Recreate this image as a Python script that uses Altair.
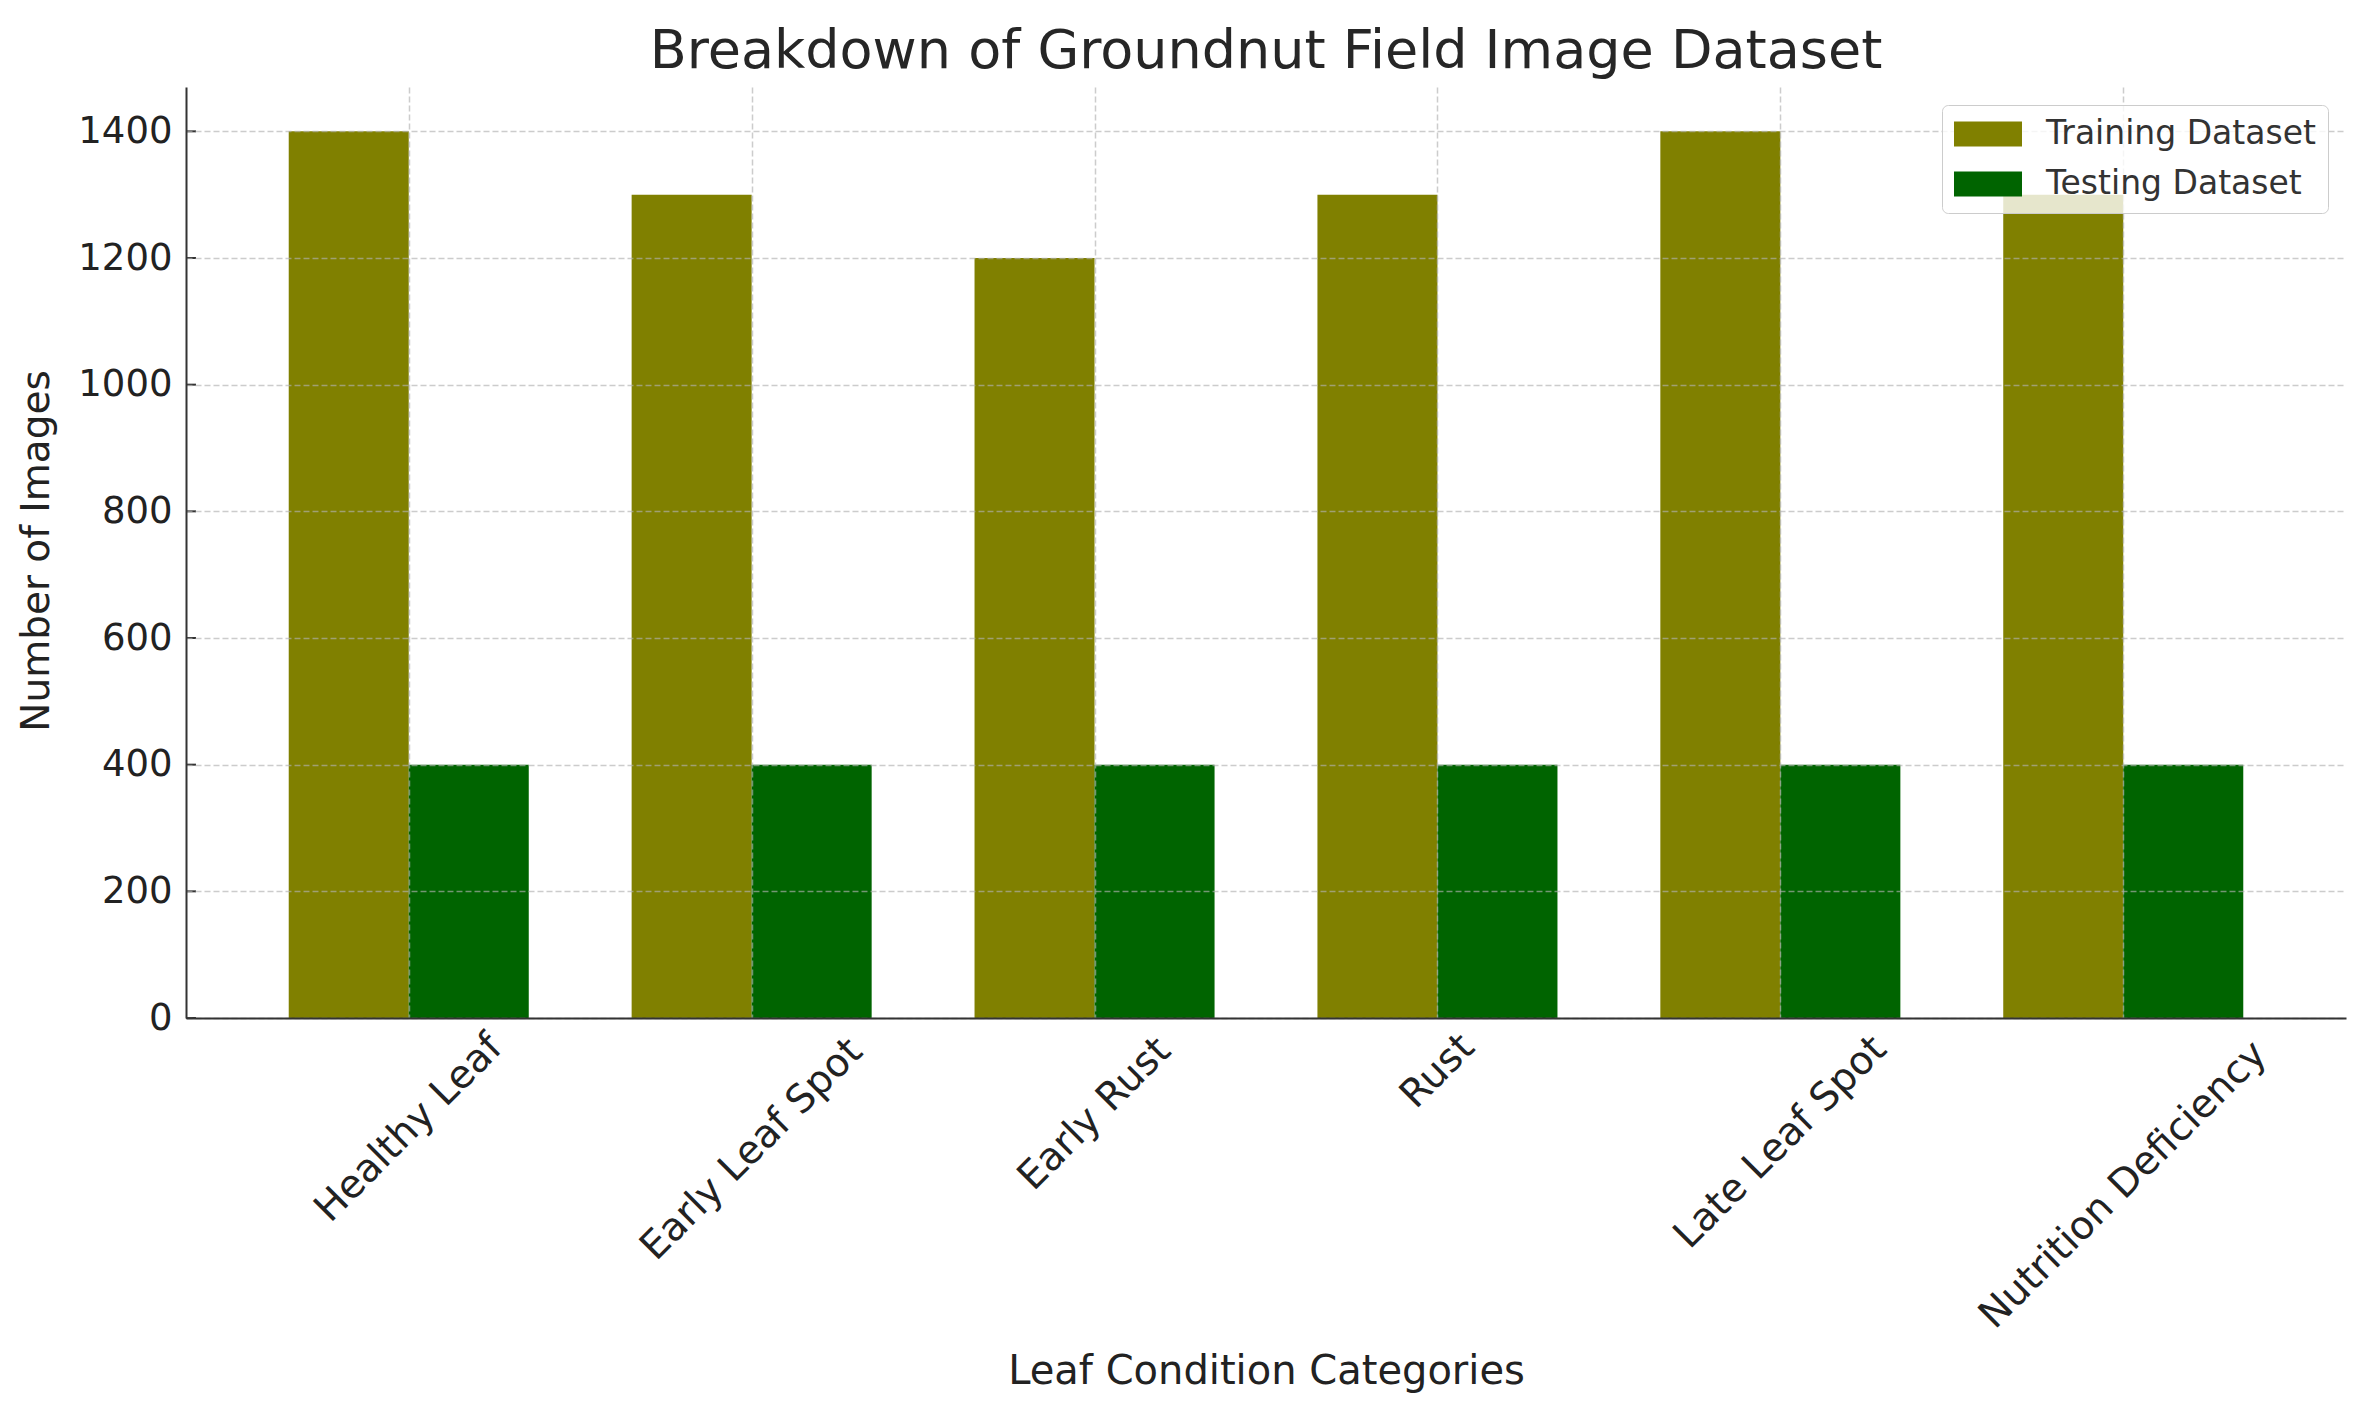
import altair as alt
import pandas as pd

# ---- data ----
categories = ["Healthy Leaf", "Early Leaf Spot", "Early Rust", "Rust",
              "Late Leaf Spot", "Nutrition Deficiency"]
training = [1400, 1300, 1200, 1300, 1400, 1300]
testing = [400, 400, 400, 400, 400, 400]
series_names = ["Training Dataset", "Testing Dataset"]
series_colors = ["#808000", "#006400"]
y_ticks = [0, 200, 400, 600, 800, 1000, 1200, 1400]

# ---- layout ----
W, H = 2160, 931
BAR = 0.35
X_DOMAIN = [-0.635, 5.635]
Y_DOMAIN = [0, 1470]
FONT = "DejaVu Sans"
TXT = "#222222"
LABEL_SIZE = 39

rows = []
for i, c in enumerate(categories):
    rows.append({"cat": c, "idx": i, "series": series_names[0], "value": training[i], "side": -1})
    rows.append({"cat": c, "idx": i, "series": series_names[1], "value": testing[i], "side": 0})
bars_df = pd.DataFrame(rows)
labels_df = pd.DataFrame({"cat": categories, "idx": list(range(len(categories)))})
ticks_df = pd.DataFrame({"value": y_ticks})

x_scale = alt.Scale(domain=X_DOMAIN, nice=False, zero=False)
y_scale = alt.Scale(domain=Y_DOMAIN, nice=False)

grid_style = dict(grid=True, gridColor="#b0b0b0", gridOpacity=0.65,
                  gridDash=[6, 3], gridWidth=1.5)

bars = alt.Chart(bars_df).transform_calculate(
    x0=f"datum.idx + datum.side * {BAR}",
).transform_calculate(
    x1=f"datum.x0 + {BAR}",
).mark_bar(orient="vertical").encode(
    x=alt.X("x0:Q", scale=x_scale,
            axis=alt.Axis(values=list(range(len(categories))), labels=False, ticks=False,
                          domainColor="#333333", domainWidth=2, zindex=1,
                          title="Leaf Condition Categories", titleFont=FONT,
                          titleFontSize=40, titleFontWeight="normal", titleColor=TXT,
                          titleX=W / 2, titleY=365, titleAlign="center",
                          titleBaseline="alphabetic", titleAngle=0,
                          **grid_style)),
    x2="x1:Q",
    y=alt.Y("value:Q", scale=y_scale,
            axis=alt.Axis(values=y_ticks, format="d", ticks=False, labelPadding=14,
                          labelFont=FONT, labelFontSize=37, labelColor=TXT,
                          domainColor="#333333", domainWidth=2, zindex=1,
                          title="Number of Images", titleFont=FONT, titleFontSize=39,
                          titleFontWeight="normal", titleColor=TXT,
                          titleX=-150, titleY=H / 2 - 2, titleAngle=270,
                          titleAlign="center", titleBaseline="middle",
                          **grid_style)),
    y2=alt.datum(0),
    color=alt.Color("series:N",
                    scale=alt.Scale(domain=series_names, range=series_colors),
                    sort=series_names,
                    legend=alt.Legend(title=None, orient="top-right", offset=18,
                                      padding=12, fillColor="rgba(255,255,255,0.8)",
                                      strokeColor="#cccccc", cornerRadius=6,
                                      symbolType="M-1,-0.735L3,-0.735L3,0.735L-1,0.735Z",
                                      symbolSize=1156, symbolStrokeWidth=0,
                                      labelFont=FONT, labelFontSize=33, labelColor="#333333",
                                      labelLimit=0, labelOffset=58, rowPadding=16,
                                      zindex=2)),
)

tick_marks = alt.Chart(ticks_df).mark_rule(color="#333333", strokeWidth=2).encode(
    y=alt.Y("value:Q", scale=y_scale),
    x=alt.value(0),
    x2=alt.value(10),
)

labels = alt.Chart(labels_df).transform_calculate(
    ypix=f"{H} + 9 + (length(datum.cat) * 0.515 * {LABEL_SIZE} + 45) * 0.3536"
).mark_text(angle=315, align="center", baseline="middle", font=FONT,
            fontSize=LABEL_SIZE, color=TXT).encode(
    x=alt.X("idx:Q", scale=x_scale),
    y=alt.Y("ypix:Q", scale=None),
    text="cat:N",
)

chart = alt.layer(bars, tick_marks, labels).properties(
    width=W, height=H,
    title=alt.TitleParams("Breakdown of Groundnut Field Image Dataset", font=FONT,
                          fontSize=54, fontWeight="normal", color="#262626",
                          anchor="middle", baseline="alphabetic", offset=20, dy=55),
    autosize=alt.AutoSizeParams(type="none"),
    padding={"left": 178, "top": 79, "right": 10, "bottom": 380},
).configure_view(strokeWidth=0)

chart.save("out.html", embed_options={"renderer": "svg", "actions": False})
